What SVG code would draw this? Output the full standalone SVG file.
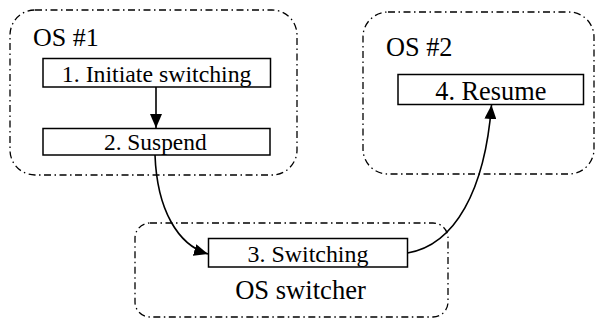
<svg xmlns="http://www.w3.org/2000/svg" width="597" height="321" viewBox="0 0 597 321">
<style>
.cont{fill:none;stroke:#000;stroke-width:1.3;stroke-dasharray:7 3.5 1.5 3.5}
.box{fill:#fff;stroke:#000;stroke-width:1.5}
text{font-family:'Liberation Serif','Times New Roman',serif;fill:#000}
.t{text-anchor:middle}
.edge{fill:none;stroke:#000;stroke-width:1.6}
</style>
<defs>
<marker id="ah" markerWidth="14" markerHeight="12" refX="14" refY="6" orient="auto" markerUnits="userSpaceOnUse">
<path d="M0,0 L14,6 L0,12 Z" fill="#000"/>
</marker>
</defs>
<g id="os1">
<rect class="cont" x="10" y="10" width="287" height="165" rx="25" ry="25"/>
<text x="33" y="45.5" font-size="26">OS #1</text>
</g>
<g id="os2">
<rect class="cont" x="363" y="12" width="231" height="162" rx="25" ry="25"/>
<text x="386" y="55.5" font-size="26.3">OS #2</text>
</g>
<g id="switcher">
<rect class="cont" x="135" y="223" width="313" height="94" rx="15" ry="15"/>
<text class="t" x="300.5" y="298.5" font-size="26.6">OS switcher</text>
</g>
<g id="n1">
<rect class="box" x="43" y="58.5" width="227.5" height="28.5"/>
<text class="t" x="156.7" y="81.7" font-size="23.8">1. Initiate switching</text>
</g>
<g id="n2">
<rect class="box" x="43" y="128.5" width="227" height="26.5"/>
<text class="t" x="155.3" y="149.5" font-size="23.4">2. Suspend</text>
</g>
<g id="n3">
<rect class="box" x="208.5" y="238.5" width="199" height="28.5"/>
<text class="t" x="308" y="261.7" font-size="23.9">3. Switching</text>
</g>
<g id="n4">
<rect class="box" x="398" y="74.5" width="185.5" height="30"/>
<text class="t" x="490.8" y="100.3" font-size="26.3">4. Resume</text>
</g>
<g id="connectors">
<path class="edge" d="M156,87 L156,128" marker-end="url(#ah)"/>
<path class="edge" d="M155,155 C157,210 178,245 208,254" marker-end="url(#ah)"/>
<path class="edge" d="M407.5,253 C455,245 485,190 491.5,105" marker-end="url(#ah)"/>
</g>
</svg>
